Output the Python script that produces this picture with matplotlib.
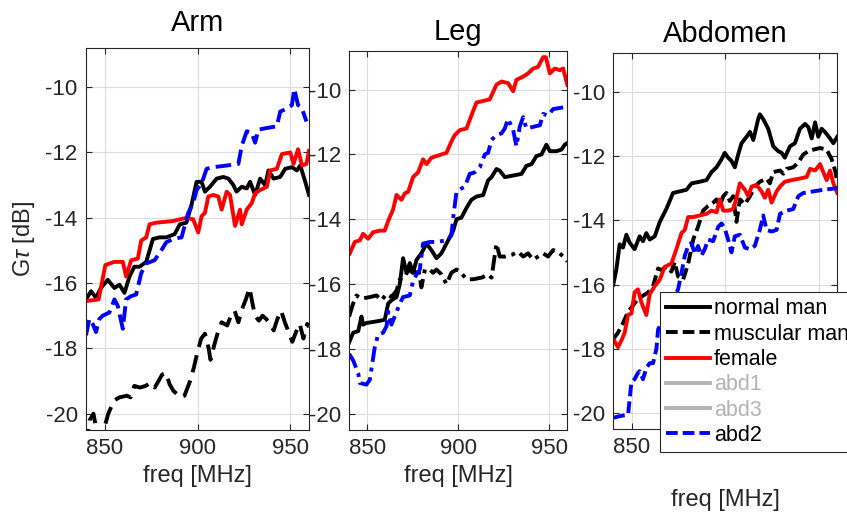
import matplotlib
matplotlib.use("Agg")
import matplotlib.pyplot as plt
from matplotlib.lines import Line2D

plt.rcParams['font.family'] = ['Liberation Sans', 'DejaVu Sans']
plt.rcParams['mathtext.fontset'] = 'custom'
plt.rcParams['mathtext.it'] = 'Liberation Sans:italic'
plt.rcParams['mathtext.rm'] = 'Liberation Sans'

# ---------------- data ----------------
panel_titles = ["Arm", "Leg", "Abdomen"]
series_names = ["normal man", "muscular man", "female", "abd1", "abd3", "abd2"]
x_ticks = [850, 900, 950]
y_ticks = [-20, -18, -16, -14, -12, -10]

# Arm
arm_normal_f = [840, 842.7, 845.4, 848, 851.7, 855.3, 858, 860.7, 863.4, 866, 868.8, 872.4, 876, 879.6, 883.2,
                887.7, 890.5, 894, 896.8, 899.5, 902.2, 904, 906.7, 910.3, 913.9, 916.6, 919.3, 921, 923.8, 926.5,
                928.3, 931, 933.7, 936.4, 938.2, 940.9, 944.5, 947.2, 950.8, 953.5, 955.3, 958, 960]
arm_normal_v = [-16.5, -16.25, -16.45, -16.15, -15.9, -16.15, -16.05, -16.3, -15.8, -15.5, -15.5, -15.35, -14.65,
                -14.6, -14.6, -14.5, -14.2, -14.15, -13.6, -12.9, -12.9, -13.2, -13.05, -12.8, -12.75, -12.8, -13.0,
                -13.2, -13.05, -13.1, -12.9, -13.3, -12.8, -13.0, -12.55, -12.8, -12.75, -12.5, -12.45, -12.55,
                -12.4, -12.9, -13.3]
arm_female_f = [840, 846.8, 850.4, 855.3, 859.8, 861.6, 864.3, 867.9, 869.7, 872.4, 874.2, 877.8, 886.8, 894.1,
                897.7, 900.4, 902.2, 904, 905.8, 908.5, 911.2, 913, 915.7, 917.5, 920.2, 922.9, 923.8, 926.5, 929.2,
                931, 933.7, 937.3, 939.1, 942.7, 945.4, 949.9, 951.7, 954.1, 956.2, 958.6, 960]
arm_female_v = [-16.55, -16.5, -15.45, -15.35, -15.35, -15.8, -15.3, -15.25, -14.7, -14.6, -14.2, -14.15, -14.1,
                -14.0, -14.05, -14.45, -13.95, -13.85, -13.35, -13.3, -13.35, -13.75, -13.2, -13.3, -14.25, -13.75,
                -14.2, -13.75, -13.55, -13.25, -13.15, -13.05, -12.55, -12.5, -12.05, -12.0, -12.35, -11.9, -12.4,
                -12.35, -11.95]
arm_muscular_f = [840, 842, 844, 846, 848, 850, 852, 855, 858, 862, 864, 866, 869, 872, 875, 877, 879, 881, 883,
                  885, 887, 889, 891, 893, 896, 898, 900, 902, 904, 906, 907, 909, 911, 913, 916, 918, 920, 922, 924,
                  926, 928, 929.5, 931, 933, 935, 937, 939, 941, 943, 945, 947, 949, 951, 953, 955, 957, 959, 960]
arm_muscular_v = [-21.0, -20.2, -20.0, -20.6, -20.8, -20.4, -20.0, -19.6, -19.5, -19.45, -19.5, -19.15, -19.2,
                  -19.15, -19.05, -19.2, -19.0, -18.8, -18.75, -19.1, -19.3, -19.4, -19.5, -19.45, -19.0, -18.6,
                  -18.1, -17.7, -17.55, -18.0, -18.35, -17.9, -17.5, -17.2, -17.3, -17.0, -16.85, -17.2, -16.8,
                  -16.5, -16.15, -16.6, -17.0, -17.15, -17.0, -17.1, -17.25, -17.45, -17.1, -16.85, -17.2, -17.5,
                  -17.8, -17.5, -17.25, -17.7, -17.25, -17.35]
arm_abd2_f = [840, 841.8, 843.6, 845.4, 847.2, 849, 852.6, 855.3, 857.1, 859.8, 861.6, 864.3, 867, 869.7, 872.4,
              876.9, 880.5, 883.2, 886.8, 891.4, 895, 897.7, 899.5, 902.2, 904.9, 908.5, 915.7, 922, 923.8, 926.5,
              929.2, 931, 932.8, 937.3, 942.7, 944.5, 948.1, 950.8, 952.1, 954.1, 956.2, 958.6]
arm_abd2_v = [-17.6, -17.1, -17.25, -17.5, -17.1, -17.0, -16.9, -16.5, -16.7, -17.4, -16.5, -16.4, -16.35, -15.7,
              -15.4, -15.3, -15.0, -14.75, -14.65, -14.6, -13.85, -13.55, -13.15, -12.95, -12.5, -12.45, -12.4,
              -12.35, -11.8, -11.35, -11.4, -11.7, -11.3, -11.25, -11.2, -10.75, -10.65, -10.55, -10.05, -10.55,
              -10.65, -11.05]

# Leg
leg_normal_f = [839.9, 842.1, 844.9, 846.7, 847.6, 849.4, 855, 859.5, 861.4, 863.2, 866, 867.8, 869.6, 871.5,
                873.3, 875.1, 877, 879.7, 882.5, 885.2, 888, 890.7, 893.5, 897.2, 899, 901.7, 904.5, 907.2, 910,
                913.7, 916.4, 918.3, 921, 922.8, 925.6, 930.2, 934.8, 937.5, 940.3, 943, 945.8, 948.5, 950.4, 954,
                956.8, 958.6, 960]
leg_normal_v = [-17.8, -17.5, -17.45, -17.0, -17.25, -17.2, -17.15, -17.1, -16.6, -16.5, -16.4, -16.0, -15.2,
                -15.65, -15.35, -15.65, -15.25, -15.05, -14.75, -14.95, -15.2, -15.05, -14.75, -14.35, -14.0,
                -13.95, -13.65, -13.4, -13.3, -13.25, -12.8, -12.7, -12.45, -12.5, -12.7, -12.65, -12.6, -12.35,
                -12.3, -12.05, -12.0, -11.7, -11.9, -11.9, -11.85, -11.7, -11.65]
leg_female_f = [840.3, 843, 845.8, 847.6, 850.4, 853.1, 856.8, 859.5, 861.4, 864.1, 866, 868.7, 870.6, 872.4,
                875.1, 877.9, 880.6, 882.5, 885.2, 888, 893.5, 896.2, 898.1, 900.8, 904.5, 907.2, 910, 913.7, 917.3,
                921, 923.8, 927.4, 930.2, 932, 935.7, 938.4, 941.2, 943.9, 946.7, 948.2, 950.4, 953.1, 955.9, 957.7,
                960]
leg_female_v = [-15.05, -14.7, -14.65, -14.45, -14.6, -14.4, -14.35, -14.35, -14.05, -13.7, -13.25, -13.4, -13.2,
                -13.15, -12.7, -12.55, -12.15, -12.3, -12.1, -12.05, -11.95, -11.6, -11.4, -11.25, -11.2, -10.8,
                -10.4, -10.35, -10.3, -9.85, -9.75, -9.8, -10.05, -9.7, -9.6, -9.5, -9.35, -9.3, -9.0, -9.0, -9.5,
                -9.35, -9.4, -9.35, -9.85]
leg_muscular_f = [839.9, 842.1, 843.9, 846.7, 851.3, 855, 857.7, 860.5, 863.2, 866, 867.8, 870.6, 872.4, 875.1,
                  877.9, 879.7, 881.6, 884.3, 886.1, 888, 890.7, 893.5, 896.2, 899, 900.8, 904.5, 908.2, 912.8,
                  916.4, 918.3, 921, 922.8, 925.6, 929.3, 932.9, 935.7, 938.4, 941.2, 943.9, 946.7, 949.4, 952.2,
                  954.9, 957.7, 960]
leg_muscular_v = [-17.0, -16.6, -16.35, -16.45, -16.4, -16.35, -16.5, -16.3, -16.4, -16.2, -15.85, -15.8, -15.55,
                  -15.65, -15.5, -16.1, -15.55, -15.55, -15.65, -15.55, -15.7, -16.0, -15.65, -15.55, -15.6, -15.85,
                  -15.85, -15.8, -15.7, -15.8, -14.75, -15.15, -15.15, -15.1, -15.0, -15.15, -15.05, -15.25, -15.15,
                  -15.05, -15.15, -14.95, -15.0, -15.15, -15.3]
leg_abd2_f = [839.9, 842.1, 844.9, 845.8, 849.4, 851.3, 854, 855.9, 858.6, 860.5, 861.4, 863.2, 865, 867.8, 869.6,
              873.3, 875.1, 877, 878.8, 880.6, 884.3, 888, 893.5, 896.2, 897.2, 899, 901.7, 903.6, 906.3, 909.1,
              911.8, 914.6, 916.4, 918.3, 921, 923.8, 925.6, 927.4, 930.2, 932, 933.8, 935.7, 937.5, 941.2, 944.9,
              946.7, 949.4, 952.2, 957.7]
leg_abd2_v = [-18.15, -18.35, -18.75, -19.05, -19.1, -18.95, -17.95, -17.55, -17.5, -17.3, -16.85, -17.25, -17.0,
              -16.6, -16.4, -16.35, -15.9, -15.7, -15.55, -14.75, -14.7, -14.7, -14.65, -14.5, -13.95, -13.15,
              -13.05, -13.0, -12.6, -12.55, -12.4, -12.0, -11.95, -11.55, -11.4, -11.35, -11.2, -10.9, -11.25,
              -11.75, -11.15, -10.85, -11.2, -11.15, -11.1, -10.75, -10.8, -10.6, -10.55]

# Abdomen
abd_normal_f = [840, 841.6, 843.4, 845.2, 847, 848.8, 851.4, 854.1, 855.9, 857.7, 859.5, 862.2, 864.9, 868.4, 872,
                875.6, 879.2, 881.9, 886.3, 889.9, 892.6, 895.3, 898, 899.7, 901.5, 903.3, 905.1, 906.9, 908.7,
                911.4, 913.2, 915, 917.6, 918.5, 920.3, 923, 925.7, 928.4, 930.2, 931.9, 934.6, 937.3, 940, 942.7,
                944.5, 946.3, 948.1, 949.8, 951.6, 953.4, 956.1, 957.9, 960]
abd_normal_v = [-16.0, -15.55, -14.75, -14.85, -14.45, -14.7, -14.9, -14.5, -14.65, -14.4, -14.6, -14.5, -14.05,
                -13.65, -13.15, -13.1, -13.05, -12.85, -12.8, -12.75, -12.5, -12.35, -12.1, -11.9, -12.05, -12.15,
                -12.35, -11.95, -11.6, -11.4, -11.25, -11.5, -10.85, -10.7, -10.85, -11.15, -11.7, -11.85, -11.9,
                -12.05, -11.7, -11.6, -11.15, -11.0, -11.1, -11.45, -10.95, -11.4, -11.15, -11.25, -11.45, -11.6,
                -11.4]
abd_muscular_f = [840, 842.5, 845.2, 847.9, 850.6, 853.2, 855.9, 858.6, 861.3, 864, 865.8, 868.4, 871.1, 872.9,
                  874.7, 877.4, 880.1, 882.8, 885.4, 888.1, 890.8, 893.5, 895.3, 897.1, 898.9, 900.6, 902.4, 904.2,
                  906, 907.8, 910.5, 913.2, 915.8, 918.5, 922.1, 923.9, 925.7, 929.3, 931.1, 932.8, 936.4, 939.1,
                  941.8, 944.5, 947.2, 950.7, 954.3, 957, 958.8, 960]
abd_muscular_v = [-17.7, -17.5, -17.2, -16.85, -16.65, -16.45, -16.35, -16.25, -16.05, -15.5, -15.55, -15.45,
                  -15.6, -15.3, -15.75, -15.85, -15.35, -14.6, -14.2, -13.7, -13.55, -13.45, -13.35, -13.55, -13.25,
                  -13.15, -13.4, -13.25, -14.05, -13.35, -13.5, -13.25, -12.95, -12.8, -12.7, -12.85, -12.5, -12.45,
                  -12.55, -12.4, -12.35, -12.2, -11.95, -11.85, -11.8, -11.75, -11.8, -12.1, -12.45, -12.8]
abd_female_f = [840, 842.5, 844.3, 846.1, 847.9, 849.7, 851.4, 853.2, 855, 857.7, 859.5, 862.2, 864.9, 867.5,
                871.1, 873.8, 876.5, 878.3, 880.1, 882.8, 886.3, 889.9, 892.6, 895.3, 897.1, 898.9, 901.5, 904.2,
                906, 907.8, 910.5, 912.3, 914.1, 916.7, 919.4, 921.2, 923, 924.8, 927.5, 929.3, 931.9, 935.5, 940,
                943.6, 945.4, 948.1, 950.8, 952.5, 954.3, 956.1, 957.9, 960]
abd_female_v = [-17.7, -17.95, -17.75, -17.5, -16.95, -16.9, -16.25, -16.15, -16.55, -16.95, -16.3, -16.05,
                -15.85, -15.45, -15.35, -14.9, -14.4, -14.3, -13.9, -13.9, -13.85, -13.8, -13.7, -13.75, -13.35,
                -13.7, -13.7, -13.65, -13.3, -12.85, -13.05, -13.25, -12.95, -12.9, -13.1, -13.3, -13.05, -13.45,
                -13.1, -12.95, -12.8, -12.75, -12.7, -12.65, -12.4, -12.45, -12.25, -12.5, -12.75, -12.45, -12.85,
                -13.15]
abd_abd2_f = [840, 843.4, 847.9, 849.7, 851.4, 853.2, 854.1, 855.9, 857.7, 859.5, 861.3, 863.1, 864, 869.3, 874.7,
              876.5, 878.3, 880.1, 881.9, 883.6, 885.4, 887.2, 889, 890.8, 893.5, 896.2, 898, 899.7, 901.5, 903.3,
              905.1, 907.8, 910.5, 913.2, 915.8, 918.5, 920.3, 922.1, 924.8, 927.5, 929.3, 932.8, 936.4, 939.1,
              941.8, 947.2, 952.5, 960]
abd_abd2_v = [-20.15, -20.1, -20.05, -19.05, -18.95, -18.75, -18.7, -18.95, -18.6, -18.45, -18.45, -18.0, -17.4,
              -16.8, -16.15, -15.65, -15.1, -14.8, -14.7, -15.05, -14.8, -15.1, -14.9, -14.6, -14.65, -14.2, -14.1,
              -14.25, -14.6, -15.0, -14.5, -14.45, -14.85, -14.9, -14.8, -14.3, -13.85, -14.3, -14.35, -14.3, -13.8,
              -13.7, -13.65, -13.25, -13.15, -13.1, -13.05, -13.0]

panels = [
    [(arm_normal_f, arm_normal_v), (arm_muscular_f, arm_muscular_v), (arm_female_f, arm_female_v),
     (arm_abd2_f, arm_abd2_v)],
    [(leg_normal_f, leg_normal_v), (leg_muscular_f, leg_muscular_v), (leg_female_f, leg_female_v),
     (leg_abd2_f, leg_abd2_v)],
    [(abd_normal_f, abd_normal_v), (abd_muscular_f, abd_muscular_v), (abd_female_f, abd_female_v),
     (abd_abd2_f, abd_abd2_v)],
]

# ---------------- style ----------------
W, H = 847, 512
fig = plt.figure(figsize=(W / 100, H / 100), dpi=100)

axes_px = [(86, 48, 309, 430), (349.3, 50.7, 567.3, 430), (613.3, 53.3, 837.3, 429)]
AX = '#262626'
LW = 2.8
colors = ['black', 'black', 'red', 'blue']
dash_styles = [
    ['-', (0, (4.5, 2.2)), '-', (0, (4, 1.6))],
    ['-', (0, (4, 1.5, 1, 1.5)), '-', (0, (4, 1.5, 1, 1.5))],
    ['-', (0, (3, 1.3)), '-', (0, (3, 1.3))],
]
title_pads = [12, 8, 8]
xlabel_pads = [4, 4, 22]

axs = []
for i, (l, t, r, b) in enumerate(axes_px):
    ax = fig.add_axes([l / W, 1 - b / H, (r - l) / W, (b - t) / H])
    axs.append(ax)
    for j, (f, v) in enumerate(panels[i]):
        ax.plot(f, v, color=colors[j], lw=LW, linestyle=dash_styles[i][j],
                solid_joinstyle='round', dash_joinstyle='round', dash_capstyle='butt')
    ax.set_xlim(840, 960)
    ax.set_ylim(-20.5, -8.8)
    ax.set_xticks(x_ticks)
    ax.set_yticks(y_ticks)
    ax.set_yticklabels([str(t) for t in y_ticks])
    ax.grid(True, color='#dddddd', lw=0.8)
    ax.set_axisbelow(True)
    ax.tick_params(direction='in', length=4, width=0.8, colors=AX, labelsize=16,
                   top=True, right=True, pad=6)
    for s in ax.spines.values():
        s.set_color(AX)
        s.set_linewidth(0.8)
    ax.set_title(panel_titles[i], fontsize=21, pad=title_pads[i], color='black')
    ax.set_xlabel('freq [MHz]', fontsize=17, labelpad=xlabel_pads[i], color=AX)

axs[0].set_ylabel(r'G$\tau$ [dB]', fontsize=17, color=AX, labelpad=6)

gray = '#b3b3b3'
handles = [
    Line2D([], [], color='black', lw=LW, linestyle='-'),
    Line2D([], [], color='black', lw=LW, linestyle=(0, (3, 1.3))),
    Line2D([], [], color='red', lw=LW, linestyle='-'),
    Line2D([], [], color=gray, lw=LW, linestyle='-'),
    Line2D([], [], color=gray, lw=LW, linestyle='-'),
    Line2D([], [], color='blue', lw=LW, linestyle=(0, (3, 1.3))),
]
leg = fig.legend(handles, series_names, loc='upper left', bbox_to_anchor=(660 / W, 1 - 292 / H),
                 bbox_transform=fig.transFigure, fontsize=15.5, frameon=True, fancybox=False,
                 framealpha=1, edgecolor=AX, handlelength=2.0, handletextpad=0.2,
                 labelspacing=0.2, borderpad=0.3, borderaxespad=0)
leg.get_frame().set_linewidth(0.8)
for k, txt in enumerate(leg.get_texts()):
    txt.set_color(gray if series_names[k] in ('abd1', 'abd3') else 'black')

fig.savefig('out.png', dpi=100)
